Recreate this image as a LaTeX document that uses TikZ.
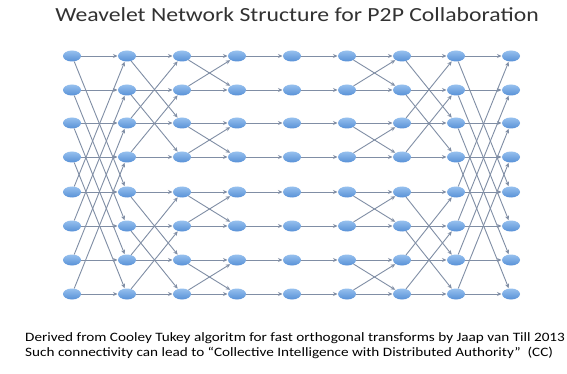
\documentclass[tikz,border=0pt]{standalone}
\usepackage{fontspec}
\usepackage{graphicx}
\setmainfont{Carlito}
\usetikzlibrary{arrows.meta,shapes.geometric}
\definecolor{linkc}{RGB}{128,142,165}
\definecolor{nodetop}{RGB}{150,192,238}
\definecolor{nodebot}{RGB}{88,145,215}
\definecolor{txtc}{RGB}{50,50,50}
\begin{document}
\begin{tikzpicture}[x=1pt,y=-1pt,
  nd/.style={ellipse, minimum width=18pt, minimum height=11pt, inner sep=0pt, top color=nodetop, bottom color=nodebot, draw=none},
  ln/.style={draw=linkc, line width=0.9pt, -{Stealth[length=4.5pt,width=4pt]}, shorten >=0.3pt},
  title/.style={font=\fontsize{20}{24}\selectfont, text=txtc, inner sep=0pt},
  foot/.style={font=\fontsize{12.8}{14}\selectfont, text=black, inner sep=0pt, anchor=west}
]
\useasboundingbox (0,0) rectangle (567,374);
\fill[white] (0,0) rectangle (567,374);
\node[title] (ttl) at (297,15) {\scalebox{1.185}[1]{Weavelet Network Structure for P2P Collaboration}};
\foreach \c [count=\ci] in {72,127,182,237,292,347,402,456,511}{
  \foreach \r [count=\ri] in {56,90,123,157,192,226,260,294}{
    \node[nd] (n\ci-\ri) at (\c,\r) {};
  }
}
% straight links
\foreach \a/\b in {1/2,2/3,3/4,4/5,5/6,6/7,7/8,8/9}{
  \foreach \r in {1,...,8}{
    \draw[ln] (n\a-\r) -- (n\b-\r);
  }
}
% stride 4
\foreach \s/\t in {1/5,2/6,3/7,4/8,5/1,6/2,7/3,8/4}{
  \draw[ln] (n1-\s) -- (n2-\t);
  \draw[ln] (n8-\s) -- (n9-\t);
}
% stride 2
\foreach \s/\t in {1/3,2/4,3/1,4/2,5/7,6/8,7/5,8/6}{
  \draw[ln] (n2-\s) -- (n3-\t);
  \draw[ln] (n7-\s) -- (n8-\t);
}
% stride 1
\foreach \s/\t in {1/2,2/1,3/4,4/3,5/6,6/5,7/8,8/7}{
  \draw[ln] (n3-\s) -- (n4-\t);
  \draw[ln] (n6-\s) -- (n7-\t);
}
\node[foot] (f1) at (25,338) {\scalebox{1.188}[1]{Derived from Cooley Tukey algoritm for fast orthogonal transforms by Jaap van Till 2013}};
\node[foot] (f2) at (25,353) {\scalebox{1.188}[1]{Such connectivity can lead to ``Collective Intelligence with Distributed Authority''\ \ (CC)}};
\end{tikzpicture}
\end{document}
